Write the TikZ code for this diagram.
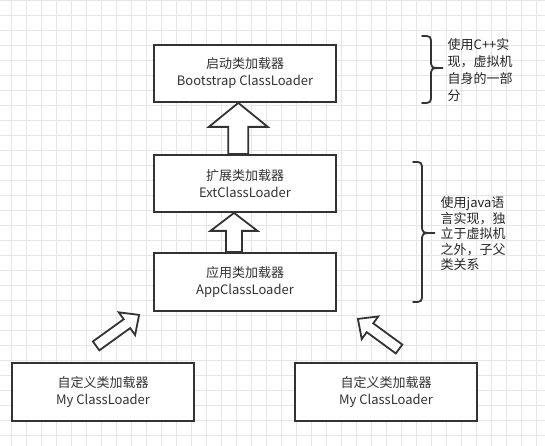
\documentclass[tikz,border=0pt]{standalone}
\usepackage{fontspec}
\setmainfont{Noto Sans CJK SC}
\usetikzlibrary{calc}
\definecolor{gridc}{HTML}{E6E6E6}
\definecolor{edge}{HTML}{333333}
\definecolor{txt}{HTML}{333333}
\begin{document}
\begin{tikzpicture}[x=1pt,y=1pt,
  box/.style={draw=edge, line width=1.8pt, fill=white, minimum width=182pt, minimum height=57pt, align=center, font=\fontsize{13}{17}\selectfont, text=txt, inner sep=0pt},
  blockarrow/.style={draw=edge, line width=1.8pt, fill=white, line join=miter},
  bracepath/.style={draw=edge, line width=1.8pt, line cap=round},
  note/.style={anchor=west, align=left, inner sep=0pt, text=black!85}]
\useasboundingbox (0,0) rectangle (545,446);
\fill[white] (0,0) rectangle (545,446);
\foreach \i in {0,...,35} \draw[gridc, line width=0.6pt] (11.7+15*\i,0) -- (11.7+15*\i,446);
\foreach \j in {0,...,29} \draw[gridc, line width=0.6pt] (0,446-15*\j) -- (545,446-15*\j);

\node[box] (boot) at (245,372.5) {启动类加载器\\Bootstrap ClassLoader};
\node[box] (ext) at (245,262.5) {扩展类加载器\\ExtClassLoader};
\node[box, minimum height=58pt] (app) at (245,164) {应用类加载器\\AppClassLoader};
\node[box, minimum height=58pt] (myl) at (103,54) {自定义类加载器\\My ClassLoader};
\node[box, minimum height=58pt] (myr) at (386,54) {自定义类加载器\\My ClassLoader};

% ext -> boot
\coordinate (a1tip) at ($(boot.south)+(-6.7,0)$);
\coordinate (a1base) at ($(ext.north)+(-6.7,0)$);
\draw[blockarrow] (a1tip) -- ($(a1tip)+(-29.5,-24)$) -- ($(a1tip)+(-10,-24)$) -- ($(a1base)+(-10,0)$) -- ($(a1base)+(10,0)$) -- ($(a1tip)+(10,-24)$) -- ($(a1tip)+(29.5,-24)$) -- cycle;

% app -> ext
\coordinate (a2tip) at ($(ext.south)+(-11,0)$);
\coordinate (a2base) at ($(app.north)+(-11,0)$);
\draw[blockarrow] (a2tip) -- ($(a2tip)+(-23.5,-18)$) -- ($(a2tip)+(-8,-18)$) -- ($(a2base)+(-8,0)$) -- ($(a2base)+(8,0)$) -- ($(a2tip)+(8,-18)$) -- ($(a2tip)+(23.5,-18)$) -- cycle;

% myl -> app
\coordinate (tl) at ($(app.south west)+(-14,-3)$);
\begin{scope}[shift={(tl)}, rotate=35.8]
\draw[blockarrow] (0,0) -- (-15,14) -- (-15,5.5) -- (-53,5.5) -- (-53,-5.5) -- (-15,-5.5) -- (-15,-14) -- cycle;
\end{scope}

% myr -> app
\coordinate (tr) at ($(app.south east)+(21,-7)$);
\begin{scope}[shift={(tr)}, rotate=143.8]
\draw[blockarrow] (0,0) -- (-15,14) -- (-15,5.5) -- (-51,5.5) -- (-51,-5.5) -- (-15,-5.5) -- (-15,-14) -- cycle;
\end{scope}

% braces
\draw[bracepath] (422,410) .. controls (431,410) .. (431,401) -- (431,386) .. controls (431,378) .. (443,378) .. controls (431,378) .. (431,370) -- (431,352) .. controls (431,343) .. (422,343);
\draw[bracepath] (413,284) .. controls (422,284) .. (422,275) -- (422,221) .. controls (422,213) .. (435,213) .. controls (422,213) .. (422,205) -- (422,153) .. controls (422,144) .. (413,144);

\node[note, font=\fontsize{13}{16.7}\selectfont] (n1) at (447.5,376) {使用C++实\\现，虚拟机\\自身的一部\\分};
\node[note, font=\fontsize{13}{15.5}\selectfont] (n2) at (440.5,212) {使用java语\\言实现，独\\立于虚拟机\\之外，子父\\类关系};
\end{tikzpicture}
\end{document}
